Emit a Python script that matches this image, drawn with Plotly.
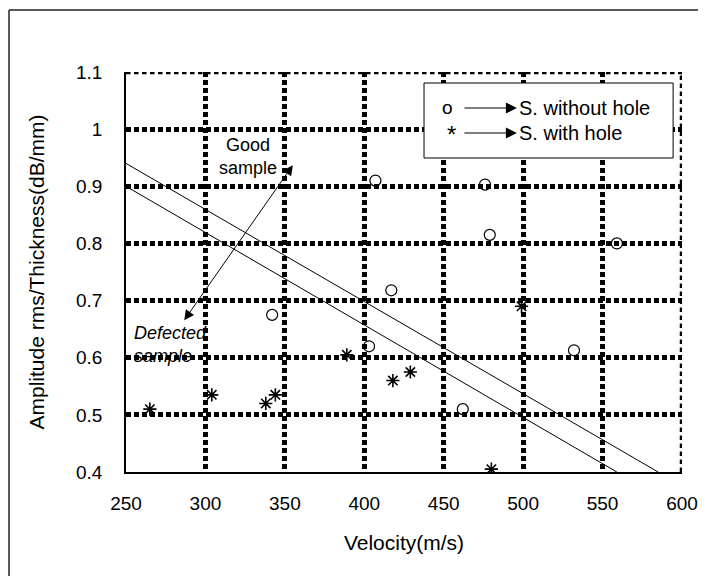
import plotly.graph_objects as go

# ---- data ----
vel_without = [342, 403, 407, 417, 462, 476, 479, 532, 559]
amp_without = [0.675, 0.62, 0.91, 0.718, 0.51, 0.903, 0.815, 0.613, 0.80]

vel_with = [265, 304, 338, 344, 389, 418, 429, 480, 499]
amp_with = [0.51, 0.535, 0.52, 0.535, 0.605, 0.56, 0.575, 0.405, 0.69]

upper_x = [250, 585]
upper_y = [0.94, 0.40]
lower_x = [250, 559]
lower_y = [0.90, 0.40]

x_ticks = [250, 300, 350, 400, 450, 500, 550, 600]
y_ticks = [0.4, 0.5, 0.6, 0.7, 0.8, 0.9, 1.0, 1.1]
y_ticktext = ["0.4", "0.5", "0.6", "0.7", "0.8", "0.9", "1", "1.1"]

X_MIN, X_MAX = 250, 600
Y_MIN, Y_MAX = 0.4, 1.1

FONT = "Liberation Sans, Arial, sans-serif"
DOT = "4.5px,3.5px"
GW = 4.5

fig = go.Figure()
fig.add_trace(go.Scatter(x=upper_x, y=upper_y, mode="lines",
                         line=dict(color="black", width=1), showlegend=False))
fig.add_trace(go.Scatter(x=lower_x, y=lower_y, mode="lines",
                         line=dict(color="black", width=1), showlegend=False))
fig.add_trace(go.Scatter(x=vel_without, y=amp_without, mode="markers",
                         marker=dict(symbol="circle-open", size=11,
                                     color="black", line=dict(width=1.2)),
                         showlegend=False))
fig.add_trace(go.Scatter(x=vel_with, y=amp_with, mode="markers",
                         marker=dict(symbol="asterisk-open", size=11,
                                     color="black", line=dict(width=1.6, color="black")),
                         showlegend=False))

grid = dict(showgrid=True, gridcolor="black", gridwidth=GW, griddash=DOT,
            zeroline=False, showline=True, linecolor="black", linewidth=1.5,
            ticks="", tickfont=dict(family=FONT, size=19, color="black"))

fig.update_xaxes(range=[X_MIN, X_MAX], tickvals=x_ticks, ticklabelstandoff=13,
                 title=dict(text="Velocity(m/s)", font=dict(family=FONT, size=21, color="black"),
                            standoff=23),
                 **grid)
fig.update_yaxes(range=[Y_MIN, Y_MAX], tickvals=y_ticks, ticktext=y_ticktext,
                 ticklabelstandoff=18,
                 title=dict(text="Amplitude rms/Thickness(dB/mm)",
                            font=dict(family=FONT, size=21, color="black"), standoff=26),
                 **grid)

annotations = []
# Good / Defected sample double arrow
annotations.append(dict(x=355, y=0.937, ax=286, ay=0.663, xref="x", yref="y",
                        axref="x", ayref="y", text="", showarrow=True,
                        arrowhead=2, startarrowhead=2, arrowside="end+start",
                        arrowsize=2, startarrowsize=2, arrowwidth=1, arrowcolor="black"))
annotations.append(dict(x=326.5, y=0.953, xref="x", yref="y", text="Good<br>sample",
                        showarrow=False, font=dict(family=FONT, size=18, color="black")))
annotations.append(dict(x=253.5, y=0.624, xref="x", yref="y", text="<i>Defected<br>sample</i>",
                        showarrow=False, align="left", xanchor="left", yanchor="middle",
                        font=dict(family=FONT, size=18, color="black")))

# legend box content
D = dict(xref="x domain", yref="y domain", yanchor="middle")
annotations.append(dict(x=0.578, y=0.91, text="o", showarrow=False, xanchor="center",
                        font=dict(family=FONT, size=19, color="black"), **D))
annotations.append(dict(x=0.586, y=0.843, text="*", showarrow=False, xanchor="center",
                        font=dict(family=FONT, size=24, color="black"), **D))
for yy in [0.91, 0.8475]:
    annotations.append(dict(x=0.703, y=yy, ax=0.606, ay=yy, axref="x domain", ayref="y domain",
                            text="", showarrow=True, arrowhead=2, arrowsize=2.2,
                            arrowwidth=1, arrowcolor="black", **D))
annotations.append(dict(x=0.703, y=0.91, text="S. without hole", xanchor="left",
                        showarrow=False, font=dict(family=FONT, size=20, color="black"), **D))
annotations.append(dict(x=0.703, y=0.8475, text="S. with hole", xanchor="left",
                        showarrow=False, font=dict(family=FONT, size=20, color="black"), **D))

shapes = [
    # dotted grid lines on the top and right plot edges
    dict(type="line", xref="x", yref="y", x0=X_MIN, x1=X_MAX, y0=Y_MAX, y1=Y_MAX,
         line=dict(color="black", width=GW, dash=DOT), layer="below"),
    dict(type="line", xref="x", yref="y", x0=X_MAX, x1=X_MAX, y0=Y_MIN, y1=Y_MAX,
         line=dict(color="black", width=GW, dash=DOT), layer="below"),
    # legend box
    dict(type="rect", xref="paper", yref="paper", x0=0.536, x1=0.984, y0=0.785, y1=0.9725,
         line=dict(color="black", width=1), fillcolor="white", layer="above"),
    # outer frame (top and left)
    dict(type="line", xref="paper", yref="paper", x0=-0.2104, x1=1.06, y0=1.155, y1=1.155,
         line=dict(color="#222", width=1.5)),
    dict(type="line", xref="paper", yref="paper", x0=-0.2104, x1=-0.2104, y0=1.155, y1=-0.3,
         line=dict(color="#222", width=1.5)),
]

fig.update_layout(width=706, height=576, margin=dict(l=118, r=32, t=64, b=112),
                  paper_bgcolor="white", plot_bgcolor="white",
                  annotations=annotations, shapes=shapes, showlegend=False)

fig.write_html("out.html")
